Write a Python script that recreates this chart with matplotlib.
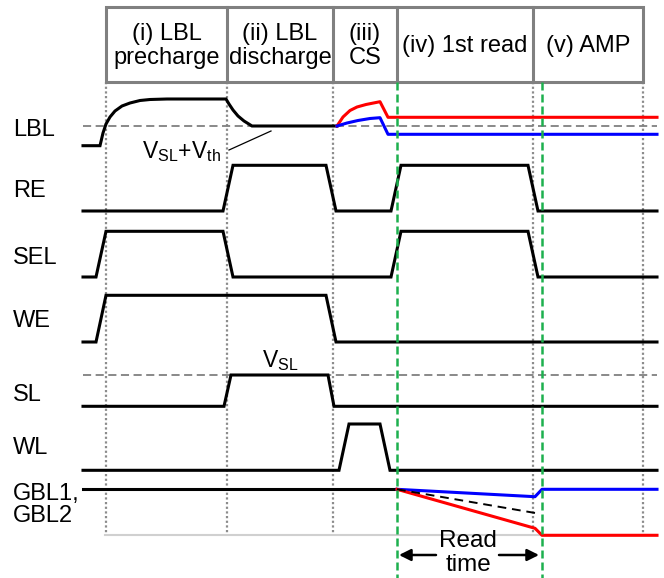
import matplotlib
matplotlib.use("Agg")
import matplotlib.pyplot as plt
from matplotlib.patches import Rectangle, FancyArrowPatch

plt.rcParams['font.family'] = ['Liberation Sans', 'DejaVu Sans']
plt.rcParams['mathtext.fontset'] = 'custom'
plt.rcParams['mathtext.rm'] = 'Liberation Sans'
plt.rcParams['mathtext.it'] = 'Liberation Sans'

# ---- phase boundaries (time axis, diagram units) ----
phase_edges = [106, 227, 333, 397, 533, 643]
phase_labels = ["(i) LBL\nprecharge", "(ii) LBL\ndischarge", "(iii)\nCS", "(iv) 1st read", "(v) AMP"]
dotted_times = [106, 227, 333, 533, 643]
green_times = [397, 542]

# ---- signal names and label rows ----
signal_names = ["LBL", "RE", "SEL", "WE", "SL", "WL", "GBL1,\nGBL2"]
label_rows = [130, 191, 258, 321, 395, 448, 505]

# ---- waveforms (time, level) ----
lbl_t = [83, 100, 103, 106, 110, 115, 122, 130, 140, 150, 167, 226, 229, 233, 238, 244, 252, 337]
lbl_v = [145.7, 145.7, 133, 124, 117, 111, 106, 103, 100.5, 99.5, 99, 99, 104, 110, 116, 121, 126, 126]
lbl_red_t = [337, 343, 350, 357, 366, 380, 388, 657]
lbl_red_v = [126, 117, 110.5, 107, 104.5, 101.7, 117.3, 117.3]
lbl_blue_t = [337, 347, 358, 370, 380, 388, 657]
lbl_blue_v = [126, 123, 120.5, 118.5, 117.7, 134.3, 134.3]
lbl_ref = 126

re_t = [83, 223, 233, 326, 336, 391, 401, 528, 538, 657]
re_v = [211, 211, 165.3, 165.3, 211, 211, 165.3, 165.3, 211, 211]
sel_t = [83, 96, 106, 223, 233, 391, 401, 528, 538, 657]
sel_v = [277, 277, 231.3, 231.3, 277, 277, 231.3, 231.3, 277, 277]
we_t = [83, 96, 106, 326, 336, 657]
we_v = [342, 342, 295.3, 295.3, 342, 342]
sl_t = [83, 224, 231, 328, 334, 657]
sl_v = [406.3, 406.3, 375, 375, 406.3, 406.3]
sl_ref = 375
wl_t = [83, 339, 349, 380, 390, 657]
wl_v = [470.3, 470.3, 424, 424, 470.3, 470.3]
gbl_t = [83, 397]
gbl_v = [489.3, 489.3]
gbl_blue_t = [397, 535, 542, 657]
gbl_blue_v = [489.3, 496.7, 489.3, 489.3]
gbl_red_t = [397, 535, 542, 657]
gbl_red_v = [489.3, 528.3, 535.3, 535.3]
gbl_ref_t = [397, 537]
gbl_ref_v = [489.3, 513.3]

fig = plt.figure(figsize=(6.64, 5.78), dpi=100)
ax = fig.add_axes([0, 0, 1, 1])
ax.set_xlim(0, 664)
ax.set_ylim(578, 0)
ax.axis('off')

GRAY = '#808080'
GREEN = '#1db04e'
LW = 2.2

# header box
ax.add_patch(Rectangle((phase_edges[0], 7), phase_edges[-1] - phase_edges[0], 75,
                       fill=False, edgecolor=GRAY, lw=2.2, zorder=3))
for x in phase_edges[1:-1]:
    ax.plot([x, x], [7, 82], color=GRAY, lw=2.2, zorder=3)
for i, lab in enumerate(phase_labels):
    xc = (phase_edges[i] + phase_edges[i + 1]) / 2
    ax.text(xc, 46, lab, ha='center', va='center', fontsize=17,
            linespacing=1.1, color='black')

# dotted verticals
for x in dotted_times:
    ax.plot([x, x], [82, 535], color='#8c8c8c', lw=1.6, ls=(0, (1, 1.1)), zorder=1)
# bottom light line
ax.plot([105, 657], [535, 535], color='#d0d0d0', lw=1.5, zorder=1)
# green dashed markers
for x in green_times:
    ax.plot([x, x], [82, 578], color=GREEN, lw=1.8, ls=(0, (3.2, 1.6)), zorder=4)

# reference dashed lines
ax.plot([83, 657], [lbl_ref, lbl_ref], color=GRAY, lw=1.3, ls=(0, (4.5, 2.5)), zorder=1)
ax.plot([83, 657], [sl_ref, sl_ref], color=GRAY, lw=1.3, ls=(0, (4.5, 2.5)), zorder=1)

# waveforms
for t, v in [(lbl_t, lbl_v), (re_t, re_v), (sel_t, sel_v), (we_t, we_v),
             (sl_t, sl_v), (wl_t, wl_v), (gbl_t, gbl_v)]:
    ax.plot(t, v, color='black', lw=LW, solid_joinstyle='miter', zorder=2)
ax.plot(lbl_red_t, lbl_red_v, color='#ff0000', lw=LW, zorder=2)
ax.plot(lbl_blue_t, lbl_blue_v, color='#0000ff', lw=LW, zorder=2)
ax.plot(gbl_blue_t, gbl_blue_v, color='#0000ff', lw=LW, zorder=2)
ax.plot(gbl_red_t, gbl_red_v, color='#ff0000', lw=LW, zorder=2)
ax.plot(gbl_ref_t, gbl_ref_v, color='black', lw=1.4, ls=(0, (4.5, 3)), zorder=2)

# signal labels
for name, y in zip(signal_names, label_rows):
    ax.text(13, y, name, ha='left', va='center', fontsize=17, linespacing=1.0)

# annotations
ax.text(181, 152, r'$\mathregular{V_{SL}{+}V_{th}}$', ha='center', va='center', fontsize=16.5)
ax.plot([229, 271], [150, 131], color='black', lw=0.9)
ax.text(280, 361, r'$\mathregular{V_{SL}}$', ha='center', va='center', fontsize=16.5)

# read time
ax.text(468, 541, 'Read', ha='center', va='center', fontsize=17.5)
ax.text(468, 565, 'time', ha='center', va='center', fontsize=17.5)
ax.add_patch(FancyArrowPatch((436, 555), (399, 555), arrowstyle='-|>,head_length=7,head_width=3.5',
                             color='black', lw=1.8, shrinkA=0, shrinkB=0))
ax.add_patch(FancyArrowPatch((499, 555), (539, 555), arrowstyle='-|>,head_length=7,head_width=3.5',
                             color='black', lw=1.8, shrinkA=0, shrinkB=0))

fig.savefig('out.png', dpi=100)
